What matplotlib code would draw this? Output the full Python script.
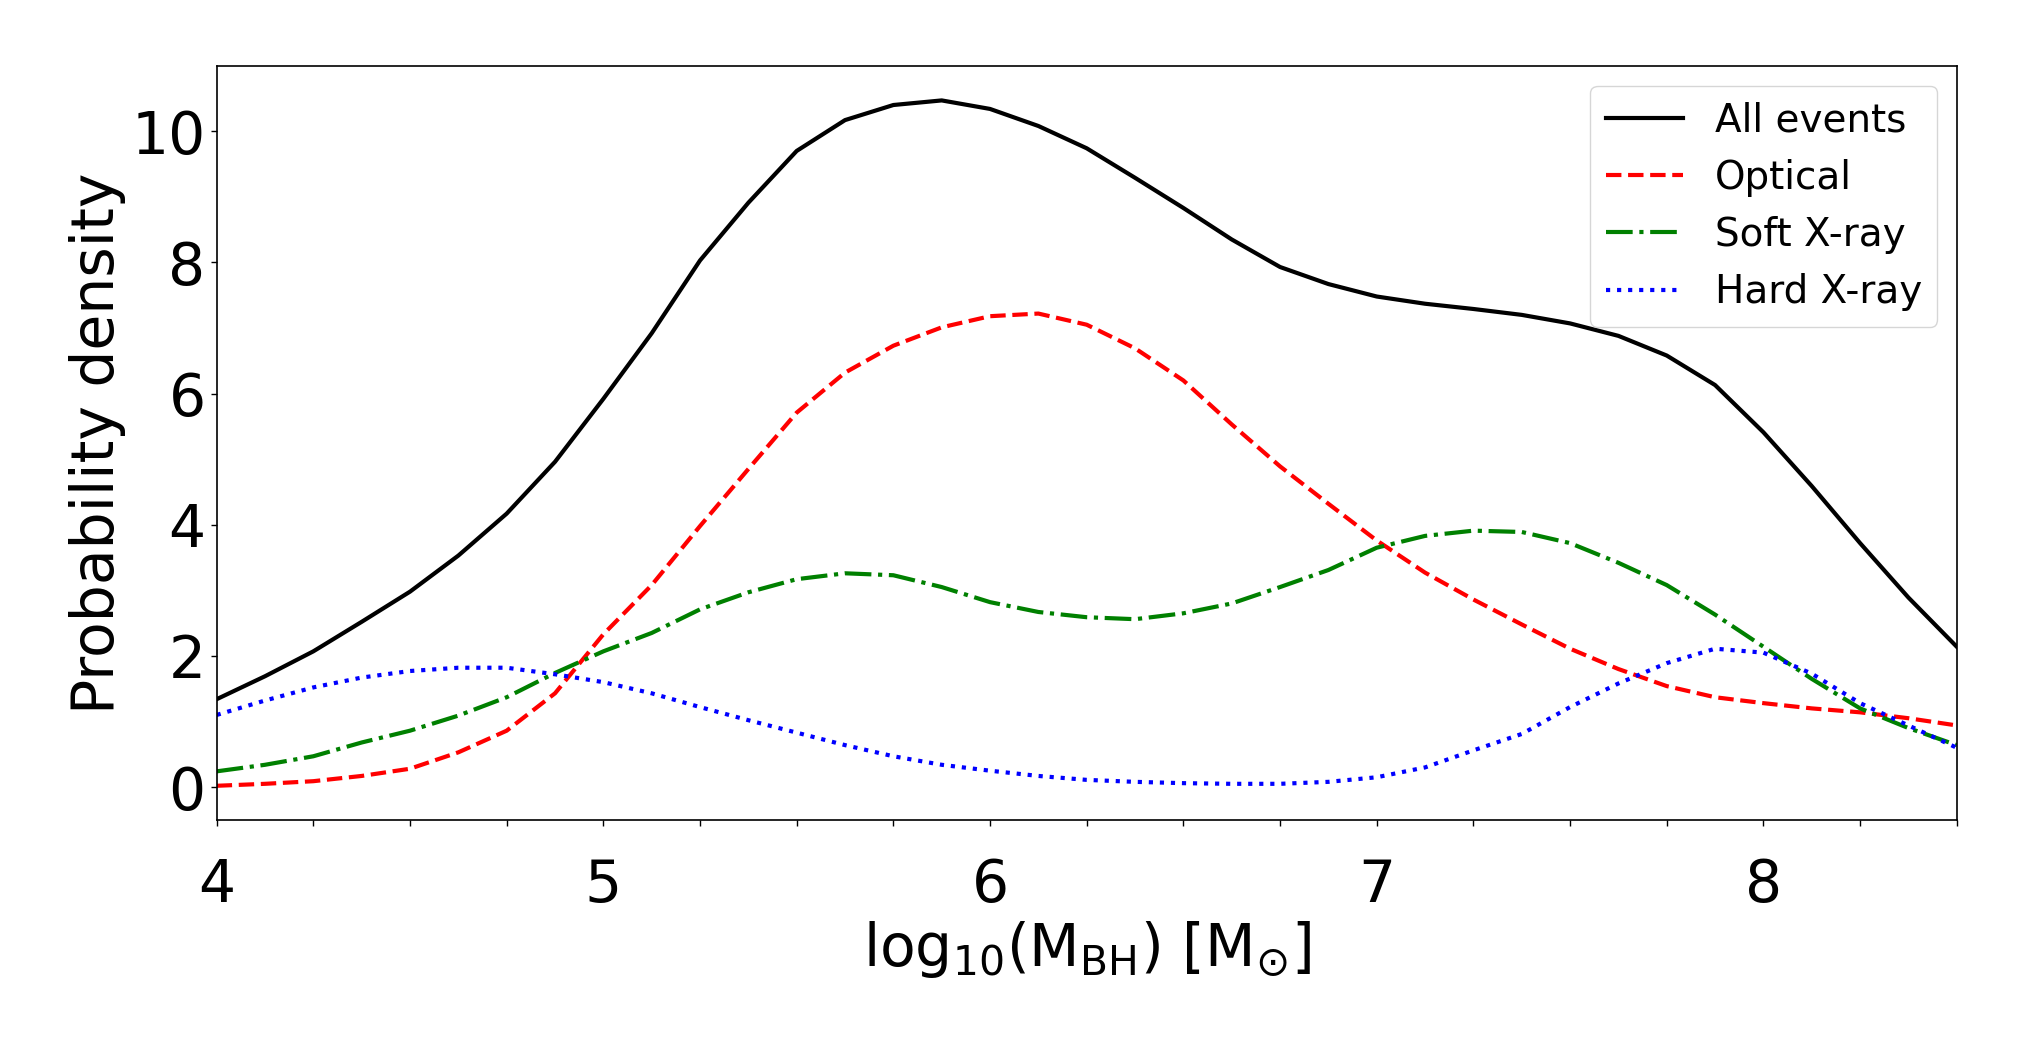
import matplotlib
matplotlib.use("Agg")
import matplotlib.pyplot as plt
from matplotlib.ticker import MultipleLocator

# log10 black-hole mass grid and the density curves
log_mbh = [4.0, 4.125, 4.25, 4.375, 4.5, 4.625, 4.75, 4.875, 5.0, 5.125, 5.25, 5.375,
           5.5, 5.625, 5.75, 5.875, 6.0, 6.125, 6.25, 6.375, 6.5, 6.625, 6.75, 6.875,
           7.0, 7.125, 7.25, 7.375, 7.5, 7.625, 7.75, 7.875, 8.0, 8.125, 8.25, 8.375, 8.5]

all_events = [1.34, 1.69, 2.07, 2.52, 2.98, 3.53, 4.17, 4.96, 5.92, 6.92, 8.03, 8.91,
              9.70, 10.17, 10.40, 10.47, 10.34, 10.08, 9.74, 9.29, 8.83, 8.35, 7.93, 7.67,
              7.48, 7.37, 7.29, 7.20, 7.07, 6.88, 6.58, 6.13, 5.41, 4.59, 3.72, 2.89, 2.14]

optical = [0.02, 0.05, 0.09, 0.17, 0.28, 0.53, 0.86, 1.43, 2.33, 3.08, 3.98, 4.85,
           5.71, 6.32, 6.73, 7.01, 7.18, 7.22, 7.05, 6.69, 6.20, 5.53, 4.89, 4.32,
           3.76, 3.27, 2.86, 2.48, 2.11, 1.80, 1.54, 1.37, 1.28, 1.20, 1.14, 1.05, 0.94]

soft_xray = [0.24, 0.34, 0.47, 0.68, 0.86, 1.09, 1.37, 1.74, 2.07, 2.35, 2.71, 2.97,
             3.17, 3.26, 3.23, 3.05, 2.82, 2.67, 2.59, 2.56, 2.65, 2.80, 3.05, 3.31,
             3.65, 3.83, 3.91, 3.89, 3.72, 3.42, 3.08, 2.63, 2.14, 1.65, 1.20, 0.90, 0.64]

hard_xray = [1.10, 1.32, 1.52, 1.67, 1.77, 1.82, 1.82, 1.72, 1.60, 1.43, 1.22, 1.02,
             0.83, 0.64, 0.47, 0.34, 0.25, 0.17, 0.11, 0.08, 0.06, 0.05, 0.05, 0.08,
             0.15, 0.30, 0.56, 0.81, 1.22, 1.58, 1.89, 2.11, 2.05, 1.73, 1.28, 0.94, 0.60]

plt.rcParams["font.size"] = 42

fig = plt.figure(figsize=(20.25, 10.5), dpi=100)
ax = fig.add_axes([0.107, 0.219, 0.8593, 0.718])

ax.plot(log_mbh, all_events, color="black", ls="-", lw=3, label="All events")
ax.plot(log_mbh, optical, color="red", ls="--", lw=3, label="Optical")
ax.plot(log_mbh, soft_xray, color="green", ls="-.", lw=3, label="Soft X-ray")
ax.plot(log_mbh, hard_xray, color="blue", ls=":", lw=3, label="Hard X-ray")

ax.set_xlim(4, 8.5)
ax.set_yticks([0, 2, 4, 6, 8, 10])
ax.xaxis.set_major_locator(MultipleLocator(1))
ax.xaxis.set_minor_locator(MultipleLocator(0.25))
ax.tick_params(which="both", length=4.5, width=1.0)
ax.tick_params(axis="x", which="major", pad=22)
for sp in ax.spines.values():
    sp.set_linewidth(1.2)

ax.set_xlabel(r"$\mathrm{log}_{10}(\mathrm{M_{BH}})$ [M$_{\odot}$]")
ax.set_ylabel("Probability density")
ax.legend(loc="upper right", fontsize=28)

fig.savefig("out.png", dpi=100)
